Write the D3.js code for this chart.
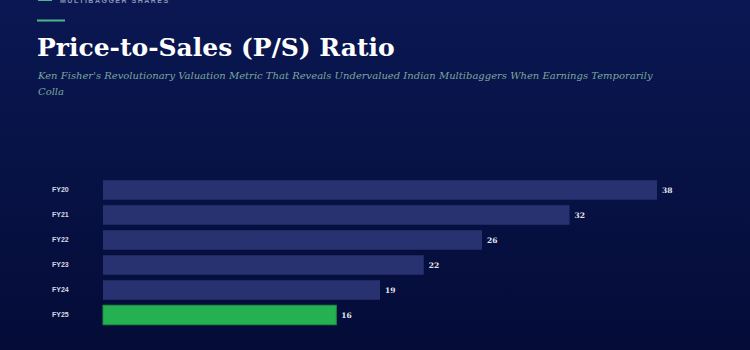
<!DOCTYPE html>
<html>
<head>
<meta charset="utf-8">
<script src="https://cdn.jsdelivr.net/npm/d3@7"></script>
<style>
  html, body { margin: 0; padding: 0; }
  body { width: 750px; height: 350px; overflow: hidden; background: #08134a; }
</style>
</head>
<body>
<div id="chart"></div>
<script>
// data
var years = ["FY20", "FY21", "FY22", "FY23", "FY24", "FY25"];
var psRatio = [38, 32, 26, 22, 19, 16];
var highlightYear = "FY25";

var width = 750,
    height = 350;

var svg = d3.select("#chart")
            .append("svg")
            .attr("width", width)
            .attr("height", height);

var defs = svg.append("defs");
var grad = defs.append("linearGradient")
     .attr("id", "bg")
     .attr("x1", 0).attr("y1", 0)
     .attr("x2", 0).attr("y2", 1);
grad.append("stop").attr("offset", "0%").attr("stop-color", "#0a1752");
grad.append("stop").attr("offset", "100%").attr("stop-color", "#040c37");

svg.append("rect")
   .attr("width", width)
   .attr("height", height)
   .attr("fill", "url(#bg)");

// header bits (brand line sits at the very top edge)
svg.append("line")
   .attr("x1", 38).attr("x2", 52).attr("y1", 0).attr("y2", 0)
   .attr("stroke", "#4fb58a").attr("stroke-width", 2);
svg.append("text")
   .attr("x", 60).attr("y", 2.5)
   .attr("fill", "#8a95b8")
   .style("font-family", "'Liberation Sans', Arial, sans-serif")
   .style("font-size", "7px")
   .style("font-weight", "bold")
   .style("letter-spacing", "1.5px")
   .text("MULTIBAGGER SHARES");

svg.append("line")
   .attr("x1", 37).attr("x2", 65).attr("y1", 20.5).attr("y2", 20.5)
   .attr("stroke", "#4fb58a").attr("stroke-width", 2);

svg.append("text")
   .attr("x", 37).attr("y", 56)
   .attr("fill", "#ffffff")
   .style("font-family", "'DejaVu Serif', 'Liberation Serif', serif")
   .style("font-size", "25px")
   .style("font-weight", "bold")
   .text("Price-to-Sales (P/S) Ratio");

var subtitle = svg.append("text")
   .attr("x", 38).attr("y", 79)
   .attr("fill", "#7aa89c")
   .style("font-family", "'DejaVu Serif', 'Liberation Serif', serif")
   .style("font-size", "10px")
   .style("font-style", "italic");
subtitle.append("tspan")
   .attr("x", 38).attr("dy", 0)
   .text("Ken Fisher's Revolutionary Valuation Metric That Reveals Undervalued Indian Multibaggers When Earnings Temporarily");
subtitle.append("tspan")
   .attr("x", 38).attr("dy", 16)
   .text("Colla");

// bars
var x = d3.scaleLinear()
          .domain([0, 38])
          .range([103, 657]);

var y = d3.scaleBand()
          .domain(years)
          .range([177.5, 327.5])
          .paddingInner(0.22)
          .paddingOuter(0.11);

var rows = years.map(function (d, i) { return { year: d, value: psRatio[i] }; });

svg.append("g").selectAll("rect")
   .data(rows)
   .enter()
   .append("rect")
   .attr("x", x(0))
   .attr("y", function (d) { return y(d.year); })
   .attr("width", function (d) { return x(d.value) - x(0); })
   .attr("height", y.bandwidth())
   .attr("fill", function (d) { return d.year == highlightYear ? "#25b151" : "#283270"; })
   .attr("stroke", function (d) { return d.year == highlightYear ? "#1c8f40" : "none"; })
   .attr("stroke-width", 1);

svg.append("g").selectAll("text")
   .data(rows)
   .enter()
   .append("text")
   .attr("x", 52)
   .attr("y", function (d) { return y(d.year) + y.bandwidth() / 2; })
   .attr("dy", "0.35em")
   .attr("fill", "#d5d8e6")
   .style("font-family", "'Liberation Sans', Arial, sans-serif")
   .style("font-size", "7px")
   .style("font-weight", "bold")
   .text(function (d) { return d.year; });

svg.append("g").selectAll("text")
   .data(rows)
   .enter()
   .append("text")
   .attr("x", function (d) { return x(d.value) + 5; })
   .attr("y", function (d) { return y(d.year) + y.bandwidth() / 2; })
   .attr("dy", "0.35em")
   .attr("fill", "#e4e6ef")
   .style("font-family", "'DejaVu Serif', serif")
   .style("font-size", "7.5px")
   .style("font-weight", "bold")
   .text(function (d) { return d.value; });
</script>
</body>
</html>
